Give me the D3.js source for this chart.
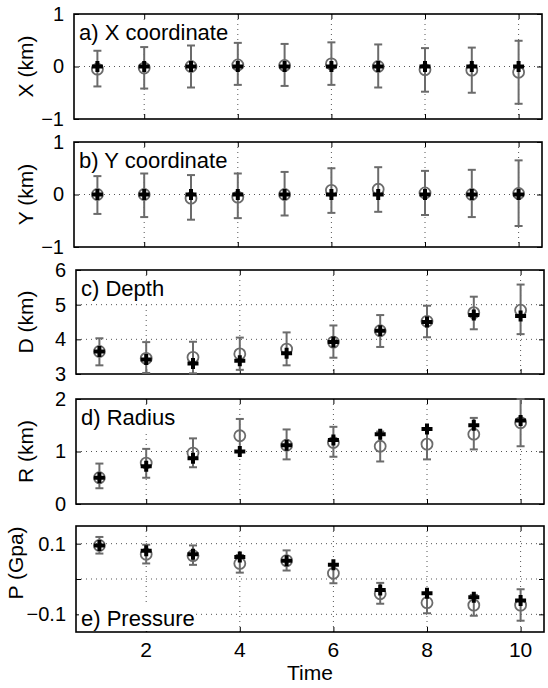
<!DOCTYPE html>
<html lang="en">
<head>
    <meta charset="UTF-8">
    <title>Source parameters vs time</title>
    <script src="https://d3js.org/d3.v7.min.js"></script>
    <style>
        body { margin: 0; background: #fff; }
        text { font-family: "Liberation Sans", Arial, sans-serif; fill: #000; }
    </style>
</head>
<body>
<div id="chart"></div>

<script>
    // time steps
    const time = [1, 2, 3, 4, 5, 6, 7, 8, 9, 10];

    // a) X coordinate (km): circle = estimate, cross = true, lo/hi = error bar ends
    const xCirc = [-0.05, -0.03, 0, 0.03, 0.02, 0.05, 0, -0.06, -0.07, -0.11];
    const xCross = [0, 0, 0, 0, 0, 0, 0, 0, 0, 0];
    const xLo = [-0.38, -0.42, -0.40, -0.35, -0.37, -0.35, -0.40, -0.48, -0.50, -0.71];
    const xHi = [0.30, 0.37, 0.40, 0.45, 0.43, 0.46, 0.42, 0.35, 0.36, 0.49];

    // b) Y coordinate (km)
    const yCirc = [0, 0, -0.07, -0.05, 0, 0.08, 0.10, 0.03, 0, 0.02];
    const yCross = [0, 0, 0, 0, 0, 0, 0, 0, 0, 0];
    const yLo = [-0.37, -0.43, -0.48, -0.45, -0.40, -0.35, -0.33, -0.39, -0.43, -0.60];
    const yHi = [0.35, 0.40, 0.37, 0.40, 0.43, 0.50, 0.52, 0.45, 0.47, 0.65];

    // c) Depth (km)
    const dCirc = [3.65, 3.45, 3.48, 3.58, 3.72, 3.92, 4.25, 4.52, 4.77, 4.84];
    const dCross = [3.65, 3.42, 3.30, 3.38, 3.60, 3.92, 4.25, 4.50, 4.70, 4.67];
    const dLo = [3.25, 3.03, 3.02, 3.12, 3.25, 3.47, 3.78, 4.06, 4.29, 4.15];
    const dHi = [4.03, 3.92, 3.93, 4.05, 4.20, 4.40, 4.70, 4.97, 5.23, 5.58];

    // d) Radius (km)
    const rCirc = [0.50, 0.78, 0.97, 1.30, 1.12, 1.17, 1.10, 1.14, 1.33, 1.55];
    const rCross = [0.50, 0.72, 0.87, 1.00, 1.12, 1.22, 1.33, 1.43, 1.50, 1.59];
    const rLo = [0.30, 0.50, 0.70, 1.00, 0.85, 0.90, 0.81, 0.85, 1.04, 1.10];
    const rHi = [0.77, 1.05, 1.25, 1.62, 1.42, 1.47, 1.38, 1.42, 1.64, 2.00];

    // e) Pressure (Gpa)
    const pCirc = [0.095, 0.070, 0.066, 0.044, 0.052, 0.016, -0.042, -0.067, -0.074, -0.074];
    const pCross = [0.095, 0.080, 0.070, 0.062, 0.052, 0.040, -0.031, -0.040, -0.052, -0.061];
    const pLo = [0.072, 0.044, 0.040, 0.018, 0.024, -0.012, -0.070, -0.097, -0.104, -0.118];
    const pHi = [0.119, 0.097, 0.095, 0.068, 0.081, 0.040, -0.011, -0.040, -0.045, -0.029];

    const xTicks = [2, 4, 6, 8, 10];

    const panels = [
        {title: "a) X coordinate", ylab: "X (km)", dom: [-1, 1], ticks: [-1, 0, 1], grid: [0],
            circ: xCirc, cross: xCross, lo: xLo, hi: xHi, top: 14, h: 105, left: 74, titleBottom: false},
        {title: "b) Y coordinate", ylab: "Y (km)", dom: [-1, 1], ticks: [-1, 0, 1], grid: [0],
            circ: yCirc, cross: yCross, lo: yLo, hi: yHi, top: 142, h: 105, left: 74, titleBottom: false},
        {title: "c) Depth", ylab: "D (km)", dom: [3, 6], ticks: [3, 4, 5, 6], grid: [4, 5],
            circ: dCirc, cross: dCross, lo: dLo, hi: dHi, top: 270, h: 104, left: 76, titleBottom: false},
        {title: "d) Radius", ylab: "R (km)", dom: [0, 2], ticks: [0, 1, 2], grid: [1],
            circ: rCirc, cross: rCross, lo: rLo, hi: rHi, top: 399, h: 105, left: 76, titleBottom: false},
        {title: "e) Pressure", ylab: "P (Gpa)", dom: [-0.15, 0.15], ticks: [-0.1, 0, 0.1], grid: [-0.1, 0, 0.1],
            circ: pCirc, cross: pCross, lo: pLo, hi: pHi, top: 526, h: 106, left: 76, titleBottom: true,
            fmt: d => d === 0 ? "" : (d < 0 ? "\u2212" : "") + Math.abs(d).toFixed(1)}
    ];

    const width = 548, height = 688, plotW = 468;
    const grey = "#6b6b6b";

    const svg = d3.select("#chart").append("svg")
        .attr("width", width)
        .attr("height", height)
        .style("display", "block");

    svg.append("rect").attr("width", width).attr("height", height).attr("fill", "#fff");

    panels.forEach(function (p, k) {
        const x = d3.scaleLinear().domain([0.5, 10.5]).range([p.left, p.left + plotW]);
        const y = d3.scaleLinear().domain(p.dom).range([p.top + p.h, p.top]);
        const g = svg.append("g");
        const fmt = p.fmt || (d => (d < 0 ? "\u2212" : "") + Math.abs(d));

        // dotted grid
        g.selectAll(".vg").data(xTicks).join("line")
            .attr("x1", d => x(d)).attr("x2", d => x(d))
            .attr("y1", p.top).attr("y2", p.top + p.h)
            .attr("stroke", "#555").attr("stroke-width", 1).attr("stroke-dasharray", "1,4");
        g.selectAll(".hg").data(p.grid).join("line")
            .attr("x1", p.left).attr("x2", p.left + plotW)
            .attr("y1", d => y(d)).attr("y2", d => y(d))
            .attr("stroke", "#555").attr("stroke-width", 1).attr("stroke-dasharray", "1,4");

        // inward ticks (bottom, top, left, right)
        const bottomAxis = d3.axisBottom(x).tickValues(xTicks).tickSize(-5).tickFormat("");
        const topAxis = d3.axisTop(x).tickValues(xTicks).tickSize(-5).tickFormat("");
        const leftAxis = d3.axisLeft(y).tickValues(p.ticks).tickSize(-5).tickFormat(fmt).tickPadding(10);
        const rightAxis = d3.axisRight(y).tickValues(p.ticks).tickSize(-5).tickFormat("");
        [g.append("g").attr("transform", `translate(0,${p.top + p.h})`).call(bottomAxis),
            g.append("g").attr("transform", `translate(0,${p.top})`).call(topAxis),
            g.append("g").attr("transform", `translate(${p.left},0)`).call(leftAxis),
            g.append("g").attr("transform", `translate(${p.left + plotW},0)`).call(rightAxis)]
            .forEach(a => {
                a.select(".domain").remove();
                a.selectAll("line").attr("stroke", "#000");
                a.selectAll("text").style("font-size", "20px")
                    .style("font-family", "'Liberation Sans', Arial, sans-serif");
            });

        // frame
        g.append("rect")
            .attr("x", p.left).attr("y", p.top)
            .attr("width", plotW).attr("height", p.h)
            .attr("fill", "none").attr("stroke", "#000").attr("stroke-width", 1.6);

        // panel title with white box
        const tg = g.append("g");
        const tt = tg.append("text")
            .attr("x", p.left + 5)
            .attr("y", p.titleBottom ? p.top + p.h - 6 : p.top + 26)
            .style("font-size", "22px")
            .text(p.title);
        const bb = tt.node().getBBox();
        tg.insert("rect", "text")
            .attr("x", bb.x - 2).attr("y", bb.y)
            .attr("width", bb.width + 3).attr("height", bb.height)
            .attr("fill", "#fff");

        // y label
        g.append("text")
            .attr("transform", `translate(${k === 4 ? 23 : 33},${p.top + p.h / 2 - (k === 4 ? 16 : 0)}) rotate(-90)`)
            .attr("text-anchor", "middle")
            .style("font-size", "21px")
            .text(p.ylab);

        // error bars
        const idx = d3.range(time.length);
        const eb = g.append("g").attr("stroke", grey).attr("stroke-width", 2).attr("fill", "none");
        eb.selectAll(".stem").data(idx).join("line")
            .attr("x1", i => x(time[i])).attr("x2", i => x(time[i]))
            .attr("y1", i => y(p.lo[i])).attr("y2", i => y(p.hi[i]));
        eb.selectAll(".capLo").data(idx).join("line")
            .attr("x1", i => x(time[i]) - 4).attr("x2", i => x(time[i]) + 4)
            .attr("y1", i => y(p.lo[i])).attr("y2", i => y(p.lo[i]));
        eb.selectAll(".capHi").data(idx).join("line")
            .attr("x1", i => x(time[i]) - 4).attr("x2", i => x(time[i]) + 4)
            .attr("y1", i => y(p.hi[i])).attr("y2", i => y(p.hi[i]));

        // circles (estimates)
        g.selectAll(".circ").data(idx).join("circle")
            .attr("cx", i => x(time[i])).attr("cy", i => y(p.circ[i]))
            .attr("r", 5.5)
            .attr("fill", "none").attr("stroke", grey).attr("stroke-width", 1.8);

        // crosses (true values)
        g.selectAll(".cross").data(idx).join("path")
            .attr("d", i => {
                const cx = x(time[i]), cy = y(p.cross[i]);
                return `M${cx - 5.5},${cy}H${cx + 5.5}M${cx},${cy - 5.5}V${cy + 5.5}`;
            })
            .attr("stroke", "#000").attr("stroke-width", 4).attr("fill", "none");

        // x tick labels on bottom panel only
        if (k === panels.length - 1) {
            g.selectAll(".xl").data(xTicks).join("text")
                .attr("x", d => x(d)).attr("y", p.top + p.h + 25)
                .attr("text-anchor", "middle")
                .style("font-size", "21px")
                .text(d => d);
            g.append("text")
                .attr("x", x(5.5)).attr("y", p.top + p.h + 48)
                .attr("text-anchor", "middle")
                .style("font-size", "21px")
                .text("Time");
        }
    });
</script>
</body>
</html>
